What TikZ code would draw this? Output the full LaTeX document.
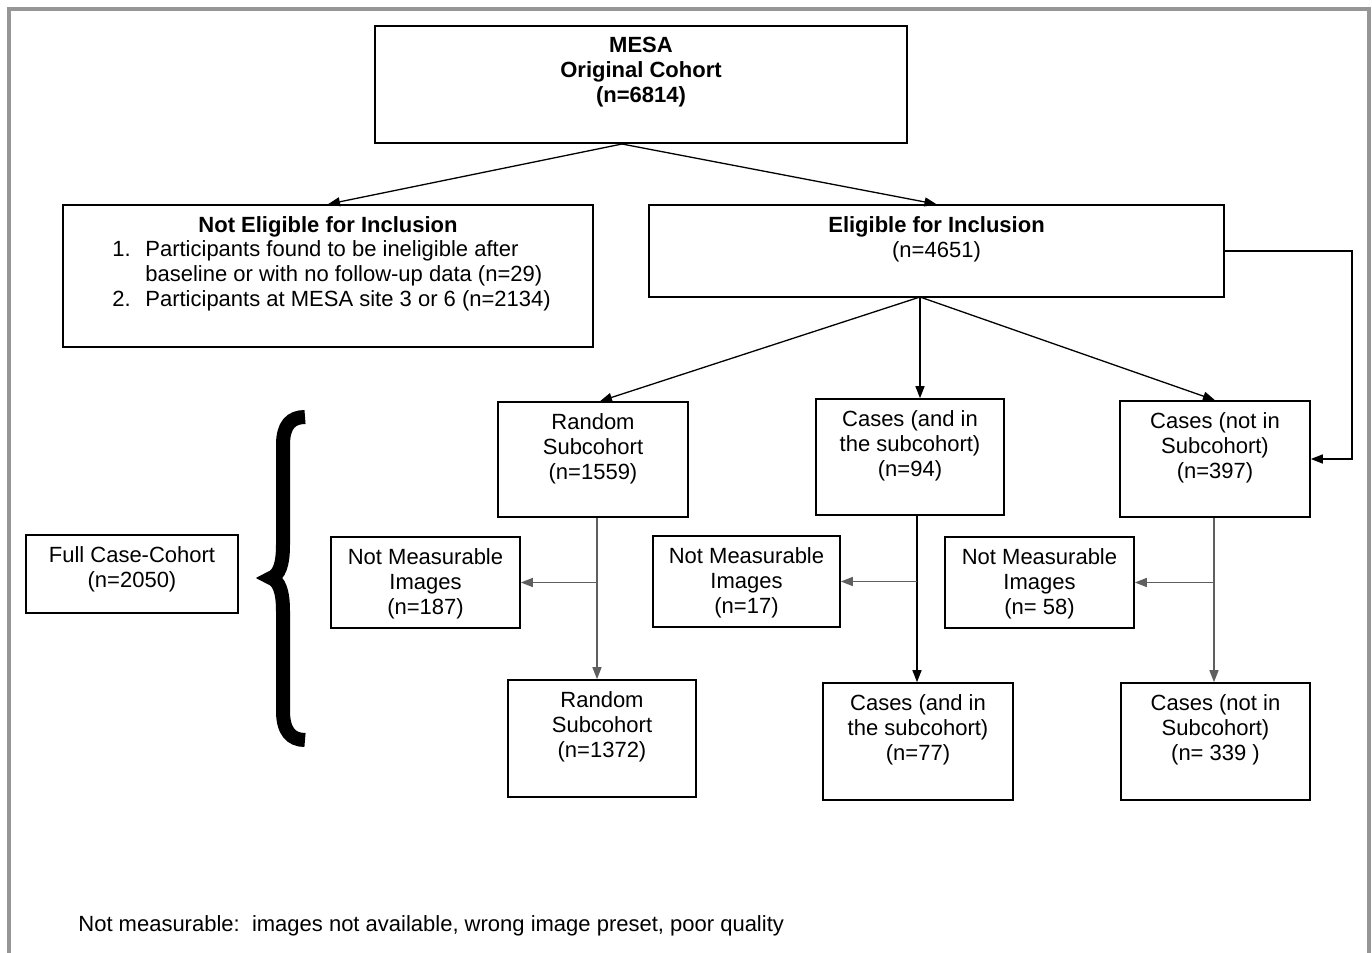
\documentclass[tikz,border=0pt]{standalone}
\usepackage{fontspec}
\setmainfont{Liberation Sans}
\usetikzlibrary{arrows.meta,positioning,calc}
\definecolor{frameGray}{RGB}{150,150,150}
\definecolor{lineGray}{RGB}{95,95,95}
\tikzset{
  flow box/.style 2 args={draw=black,line width=0.8pt,inner sep=0pt,minimum width=#1,minimum height=#2},
  flow text/.style={align=center,anchor=north,inner sep=0pt,font=\fontsize{11}{12.5}\selectfont,yshift=-6pt},
  list text/.style={align=left,anchor=north west,inner sep=0pt,font=\fontsize{11}{12.5}\selectfont},
  flow arrow/.style={-{Triangle[length=6pt,width=4.5pt]},line width=0.65pt,draw=black},
  flow arrow gray/.style={-{Triangle[length=6pt,width=4.5pt]},line width=0.65pt,draw=lineGray},
  brace line/.style={line width=7pt,draw=black}
}
\begin{document}
\begin{tikzpicture}[x=0.5pt,y=-0.5pt]
        \useasboundingbox (0,0) rectangle (1372,953);
        \draw[frameGray,line width=2pt] (9,953) -- (9,9) -- (1369,9) -- (1369,953);
        % top of the flow
        \node[flow box={266pt}{58.5pt}] (mesa) at (641,84.5) {};
        \node[flow text,font=\fontsize{11}{12.5}\selectfont\bfseries] (mesa-t) at (mesa.north) {MESA\\Original Cohort\\(n=6814)};
        \node[flow box={265pt}{71pt}] (noelig) at (328,276) {};
        \node[flow text] (noelig-t) at (noelig.north) {\textbf{Not Eligible for Inclusion}};
        \node[list text] (noelig-l) at (112,240) {\makebox[16.5pt][l]{1.}Participants found to be ineligible after\\\hspace*{16.5pt}baseline or with no follow-up data (n=29)\\\makebox[16.5pt][l]{2.}Participants at MESA site 3 or 6 (n=2134)};
        \node[flow box={287.5pt}{46pt}] (elig) at (936.5,251) {};
        \node[flow text] (elig-t) at (elig.north) {\textbf{Eligible for Inclusion}\\(n=4651)};
        % first row
        \node[flow box={95pt}{57.5pt}] (rand1) at (593,459.5) {};
        \node[flow text] (rand1-t) at (rand1.north) {Random\\Subcohort\\(n=1559)};
        \node[flow box={94pt}{58pt}] (casin1) at (910,457) {};
        \node[flow text] (casin1-t) at (casin1.north) {Cases (and in\\the subcohort)\\(n=94)};
        \node[flow box={95pt}{58pt}] (casnot1) at (1215,459) {};
        \node[flow text] (casnot1-t) at (casnot1.north) {Cases (not in\\Subcohort)\\(n=397)};
        % not measurable row
        \node[flow box={106pt}{39pt}] (full) at (132,574) {};
        \node[flow text] (full-t) at (full.north) {Full Case-Cohort\\(n=2050)};
        \node[flow box={94.5pt}{45.5pt}] (nm1) at (425.5,582.5) {};
        \node[flow text] (nm1-t) at (nm1.north) {Not Measurable\\Images\\(n=187)};
        \node[flow box={93.5pt}{45.5pt}] (nm2) at (746.5,581.5) {};
        \node[flow text] (nm2-t) at (nm2.north) {Not Measurable\\Images\\(n=17)};
        \node[flow box={94.5pt}{45.5pt}] (nm3) at (1039.5,582.5) {};
        \node[flow text] (nm3-t) at (nm3.north) {Not Measurable\\Images\\(n= 58)};
        % final row
        \node[flow box={94pt}{58.5pt}] (rand2) at (602,738.5) {};
        \node[flow text] (rand2-t) at (rand2.north) {Random\\Subcohort\\(n=1372)};
        \node[flow box={95pt}{58.5pt}] (casin2) at (918,741.5) {};
        \node[flow text] (casin2-t) at (casin2.north) {Cases (and in\\the subcohort)\\(n=77)};
        \node[flow box={94.5pt}{58.5pt}] (casnot2) at (1215.5,741.5) {};
        \node[flow text] (casnot2-t) at (casnot2.north) {Cases (not in\\Subcohort)\\(n= 339 )};
        \node[anchor=west,inner sep=0pt,font=\fontsize{11}{12.5}\selectfont] (note) at (78,926) {Not measurable:\ \ images not available, wrong image preset, poor quality};
        % brace
        \draw[brace line] (305,417) .. controls (291,417) and (283,425) .. (283,445) -- (283,545) .. controls (283,565) and (279,575) .. (271,578) .. controls (279,581) and (283,591) .. (283,611) -- (283,711) .. controls (283,731) and (291,740) .. (305,740);
        % connectors
        \coordinate (mesa-out) at (622,144);
        \coordinate (elig-out) at (920,297);
        \coordinate (side) at (1352,248);
        \coordinate (rand-col) at (597,0);
        \coordinate (casin-col) at (917,0);
        \coordinate (casnot-col) at (1214,0);
        \draw[flow arrow] (mesa-out) -- (noelig.north);
        \draw[flow arrow] (mesa-out) -- (elig.north);
        \draw[flow arrow] (elig-out) -- ($(rand1.north)+(7,0)$);
        \draw[flow arrow] (elig-out) -- (elig-out |- casin1.north);
        \draw[flow arrow] (elig-out) -- (casnot1.north);
        \draw[flow arrow] (elig.east) -- (elig.east -| side) |- (casnot1.east);
        \draw[flow arrow gray] (rand1.south -| rand-col) -- (rand2.north -| rand-col);
        \draw[flow arrow gray] (rand-col |- nm1.east) -- (nm1.east);
        \draw[flow arrow] (casin1.south -| casin-col) -- (casin2.north -| casin-col);
        \draw[flow arrow gray] (casin-col |- nm2.east) -- (nm2.east);
        \draw[flow arrow gray] (casnot1.south -| casnot-col) -- (casnot2.north -| casnot-col);
        \draw[flow arrow gray] (casnot-col |- nm3.east) -- (nm3.east);
      \end{tikzpicture}
\end{document}
